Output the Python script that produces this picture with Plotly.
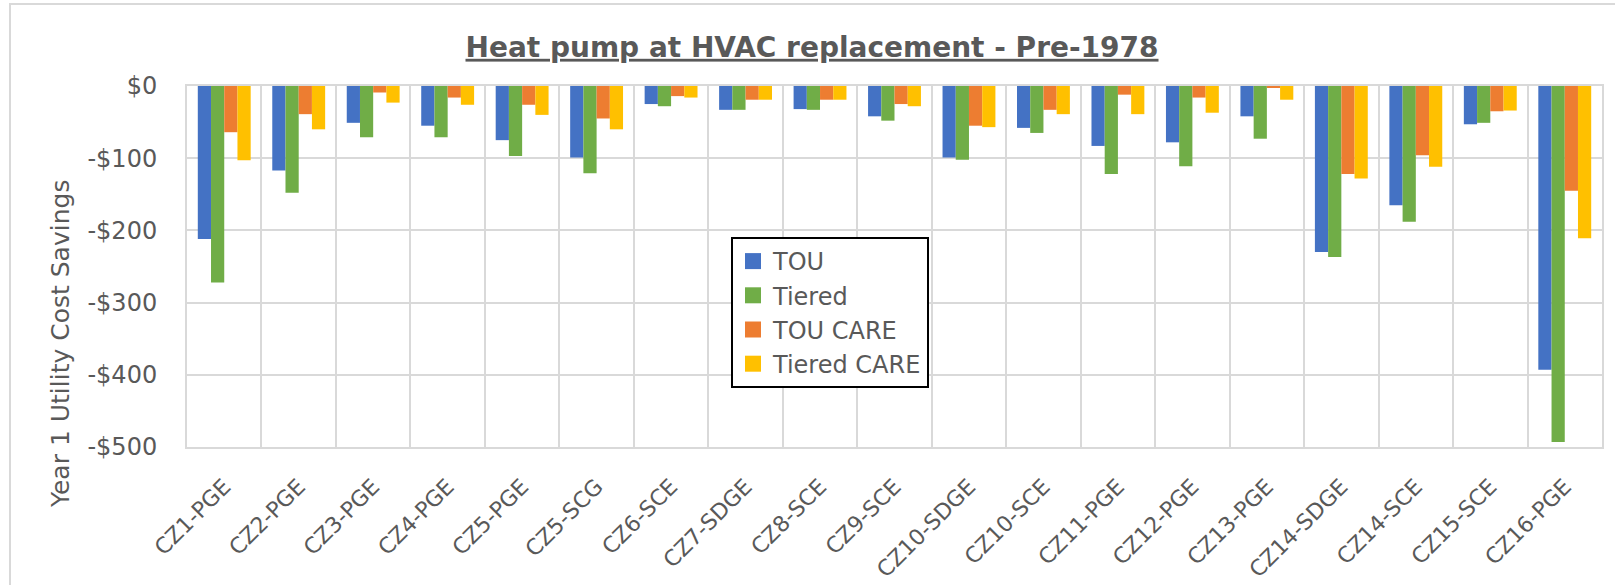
import plotly.graph_objects as go

categories = ["CZ1-PGE", "CZ2-PGE", "CZ3-PGE", "CZ4-PGE", "CZ5-PGE", "CZ5-SCG", "CZ6-SCE",
              "CZ7-SDGE", "CZ8-SCE", "CZ9-SCE", "CZ10-SDGE", "CZ10-SCE", "CZ11-PGE",
              "CZ12-PGE", "CZ13-PGE", "CZ14-SDGE", "CZ14-SCE", "CZ15-SCE", "CZ16-PGE"]

tou = [-212, -117, -51, -55, -75, -99, -25, -33, -32, -42, -99, -58, -83, -78, -42, -230, -165, -53, -393]
tiered = [-272, -148, -71, -71, -97, -121, -28, -33, -33, -48, -102, -65, -122, -111, -73, -237, -188, -51, -493]
tou_care = [-64, -39, -9, -16, -26, -45, -14, -19, -19, -25, -55, -33, -12, -16, -2, -122, -96, -35, -145]
tiered_care = [-103, -60, -23, -26, -40, -60, -16, -19, -19, -28, -57, -39, -39, -37, -19, -128, -112, -34, -211]

y_tickvals = [0, -100, -200, -300, -400, -500]
y_ticktext = ["$0", "-$100", "-$200", "-$300", "-$400", "-$500"]

series = [("TOU", tou, "#4472C4"), ("Tiered", tiered, "#70AD47"),
          ("TOU CARE", tou_care, "#ED7D31"), ("Tiered CARE", tiered_care, "#FFC000")]

W, H = 1615, 585
L, R, T, B = 187, 1602, 86, 447
FONT = "DejaVu Sans"
GREY = "#595959"
GRID = "#D9D9D9"

fig = go.Figure()
for name, vals, col in series:
    fig.add_trace(go.Bar(x=categories, y=vals, name=name, showlegend=False,
                         marker=dict(color=col, line=dict(width=0))))
# legend swatches (larger squares, as in the reference)
for name, vals, col in series:
    fig.add_trace(go.Scatter(x=[None], y=[None], mode="markers", name=name,
                             marker=dict(symbol="square", size=17, color=col)))

pw, ph = R - L, B - T

fig.update_layout(
    width=W, height=H,
    margin=dict(l=L, r=W - R, t=T, b=H - B, pad=0),
    paper_bgcolor="white", plot_bgcolor="white",
    barmode="group", bargap=0.29, bargroupgap=0,
    font=dict(family=FONT, color=GREY),
    title=dict(text="<b>Heat pump at HVAC replacement - Pre-1978</b>",
               font=dict(family=FONT, size=28, color=GREY, lineposition="under"),
               x=812 / W, xref="container", xanchor="center",
               y=1 - 47 / H, yref="container", yanchor="middle", automargin=False),
    xaxis=dict(type="category", tickson="boundaries", showgrid=True, gridcolor=GRID, gridwidth=2,
               showline=True, linecolor=GRID, linewidth=2, mirror=True, automargin=False,
               ticks="", tickangle=-45, tickfont=dict(family=FONT, size=22, color=GREY),
               ticklabelstandoff=16, range=[-0.5, len(categories) - 0.5]),
    yaxis=dict(range=[-500, 0], tickvals=y_tickvals, ticktext=y_ticktext, automargin=False,
               showgrid=True, gridcolor=GRID, gridwidth=2, zeroline=False,
               showline=True, linecolor=GRID, linewidth=2, mirror=True,
               ticks="", tickfont=dict(family=FONT, size=24, color=GREY), ticklabelstandoff=23),
    legend=dict(x=(731 - L) / pw, y=(B - 237) / ph, xanchor="left", yanchor="top",
                bordercolor="black", borderwidth=2, bgcolor="white",
                font=dict(family=FONT, size=24, color=GREY), tracegroupgap=0),
    showlegend=True,
    annotations=[dict(text="Year 1 Utility Cost Savings", textangle=-90,
                      xref="paper", yref="paper", x=(60 - L) / pw, y=(B - 344) / ph,
                      xanchor="center", yanchor="middle", showarrow=False,
                      font=dict(family=FONT, size=25, color=GREY))],
    shapes=[dict(type="rect", xref="paper", yref="paper",
                 x0=(10 - L) / pw, x1=(1640 - L) / pw, y0=(B - 620) / ph, y1=(B - 4) / ph,
                 line=dict(color=GRID, width=2), fillcolor="rgba(0,0,0,0)", layer="below")],
)

fig.write_html("out.html", config={"displayModeBar": False},
               post_script="document.body.style.margin='0';")
